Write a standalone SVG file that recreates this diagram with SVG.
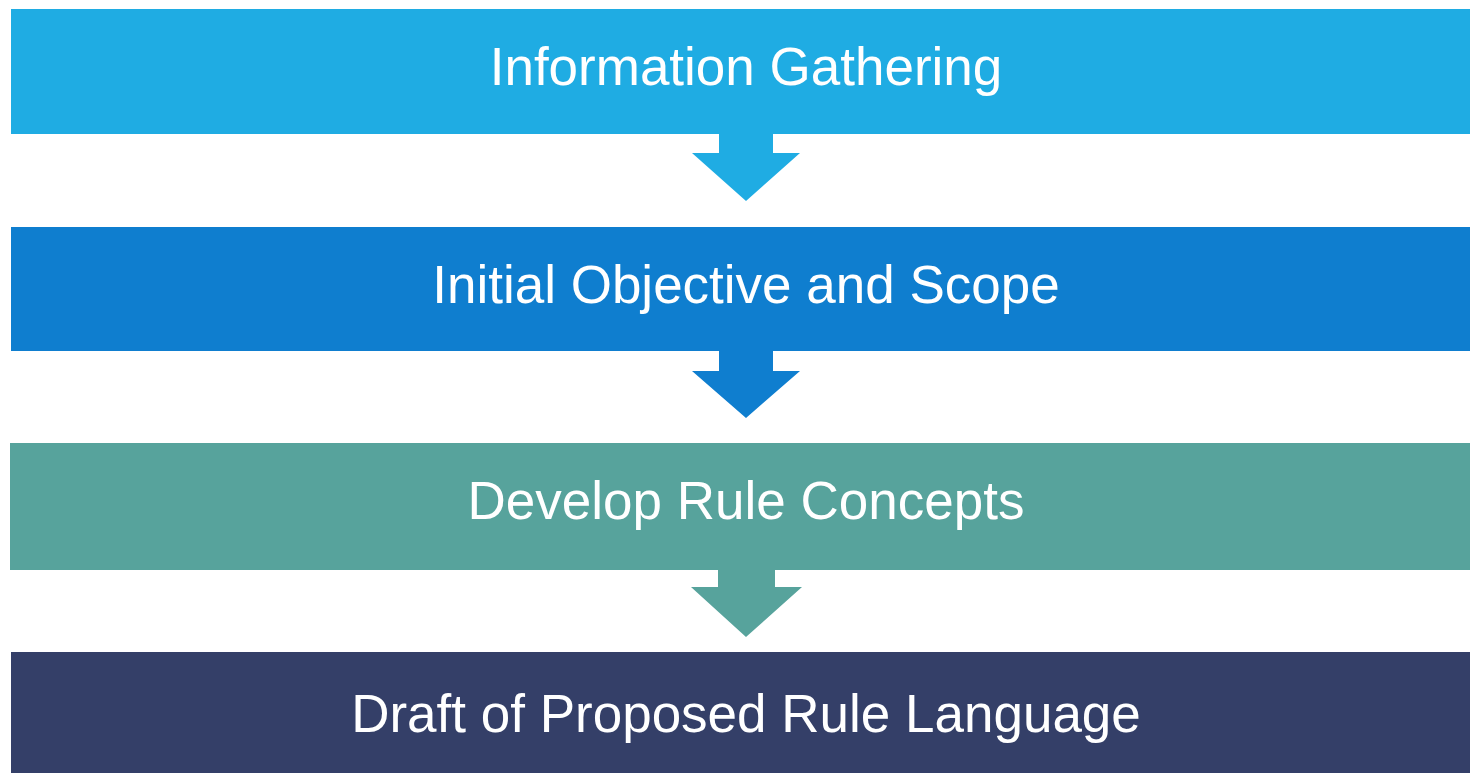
<svg xmlns="http://www.w3.org/2000/svg" width="1470" height="773" viewBox="0 0 1470 773">
<style>
.lbl{font-family:"Liberation Sans",Arial,sans-serif;font-size:53px;fill:#ffffff;text-anchor:middle}
</style>
<rect width="1470" height="773" fill="#ffffff"/>
<g id="connectors">
<polygon points="719,134 773,134 773,153 800,153 746,201 692,153 719,153" fill="#1FACE3"/>
<polygon points="719,351 773,351 773,371 800,371 746,418 692,371 719,371" fill="#0F7ECF"/>
<polygon points="718,570 775,570 775,587 802,587 746,637 691,587 718,587" fill="#57A39C"/>
</g>
<g id="node1"><rect x="11" y="9" width="1459" height="125" fill="#1FACE3"/><text class="lbl" x="746" y="85">Information Gathering</text></g>
<g id="node2"><rect x="11" y="227" width="1459" height="124" fill="#0F7ECF"/><text class="lbl" x="746" y="303">Initial Objective and Scope</text></g>
<g id="node3"><rect x="10" y="443" width="1460" height="127" fill="#57A39C"/><text class="lbl" x="746" y="519">Develop Rule Concepts</text></g>
<g id="node4"><rect x="11" y="652" width="1459" height="121" fill="#343F68"/><text class="lbl" x="746" y="732">Draft of Proposed Rule Language</text></g>
</svg>
